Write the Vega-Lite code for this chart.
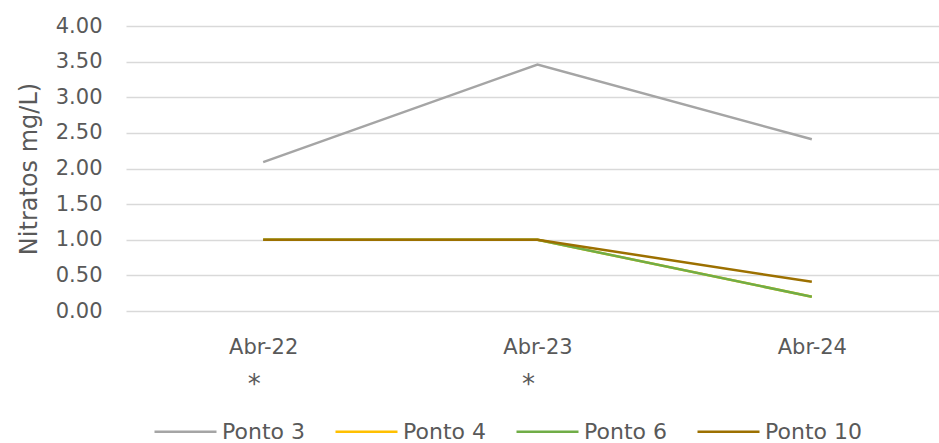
{
  "$schema": "https://vega.github.io/schema/vega-lite/v6.json",
  "width": 823,
  "height": 285,
  "autosize": {"type": "none"},
  "padding": {"left": 126, "top": 26, "right": -10, "bottom": 132},
  "background": "white",
  "config": {
    "view": {"stroke": null},
    "font": "DejaVu Sans",
    "axis": {"labelFont": "DejaVu Sans", "titleFont": "DejaVu Sans", "labelColor": "#595959", "titleColor": "#595959"},
    "legend": {"labelFont": "DejaVu Sans"}
  },
  "layer": [
    {
      "data": {
        "values": [
          {"data": "Abr-22", "ponto": "Ponto 3", "nitratos": 2.09},
          {"data": "Abr-23", "ponto": "Ponto 3", "nitratos": 3.46},
          {"data": "Abr-24", "ponto": "Ponto 3", "nitratos": 2.41},
          {"data": "Abr-22", "ponto": "Ponto 4", "nitratos": 1.0},
          {"data": "Abr-23", "ponto": "Ponto 4", "nitratos": 1.0},
          {"data": "Abr-24", "ponto": "Ponto 4", "nitratos": 0.2},
          {"data": "Abr-22", "ponto": "Ponto 6", "nitratos": 1.0},
          {"data": "Abr-23", "ponto": "Ponto 6", "nitratos": 1.0},
          {"data": "Abr-24", "ponto": "Ponto 6", "nitratos": 0.2},
          {"data": "Abr-22", "ponto": "Ponto 10", "nitratos": 1.0},
          {"data": "Abr-23", "ponto": "Ponto 10", "nitratos": 1.0},
          {"data": "Abr-24", "ponto": "Ponto 10", "nitratos": 0.41}
        ]
      },
      "mark": {"type": "line", "strokeWidth": 2.5},
      "encoding": {
        "x": {
          "field": "data",
          "type": "ordinal",
          "scale": {"type": "point", "padding": 0.5},
          "axis": {
            "title": null,
            "labelAngle": 0,
            "domain": false,
            "ticks": false,
            "grid": false,
            "labelFontSize": 21,
            "labelPadding": 25
          }
        },
        "y": {
          "field": "nitratos",
          "type": "quantitative",
          "scale": {"domain": [0, 4]},
          "axis": {
            "title": "Nitratos mg/L)",
            "titleFontSize": 24,
            "titleFontWeight": "normal",
            "titlePadding": 14,
            "values": [0, 0.5, 1, 1.5, 2, 2.5, 3, 3.5, 4],
            "format": ".2f",
            "labelFontSize": 21,
            "labelPadding": 24,
            "domain": false,
            "ticks": false,
            "gridColor": "#D9D9D9",
            "gridWidth": 1.5
          }
        },
        "color": {
          "field": "ponto",
          "type": "nominal",
          "sort": ["Ponto 3", "Ponto 4", "Ponto 6", "Ponto 10"],
          "scale": {
            "domain": ["Ponto 3", "Ponto 4", "Ponto 6", "Ponto 10"],
            "range": ["#A5A5A5", "#FFC000", "#70AD47", "#9C7000"]
          },
          "legend": {
            "title": null,
            "orient": "none",
            "direction": "horizontal",
            "legendX": 27,
            "legendY": 373,
            "symbolType": "stroke",
            "symbolSize": 3844,
            "symbolStrokeWidth": 2.5,
            "labelFontSize": 22,
            "labelColor": "#595959",
            "labelOffset": 4,
            "columnPadding": 25
          }
        }
      }
    },
    {
      "data": {
        "values": [
          {"data": "Abr-22", "nota": "*"},
          {"data": "Abr-23", "nota": "*"}
        ]
      },
      "mark": {"type": "text", "font": "DejaVu Sans", "fontSize": 26, "color": "#595959", "dy": 74, "dx": -9},
      "encoding": {
        "x": {"field": "data", "type": "ordinal"},
        "y": {
          "datum": 0,
          "type": "quantitative",
          "axis": {
            "title": "Nitratos mg/L)",
            "titleFontSize": 24,
            "titleFontWeight": "normal",
            "titlePadding": 14,
            "values": [0, 0.5, 1, 1.5, 2, 2.5, 3, 3.5, 4],
            "format": ".2f",
            "labelFontSize": 21,
            "labelPadding": 24,
            "domain": false,
            "ticks": false,
            "gridColor": "#D9D9D9",
            "gridWidth": 1.5
          }
        },
        "text": {"field": "nota"}
      }
    }
  ]
}
